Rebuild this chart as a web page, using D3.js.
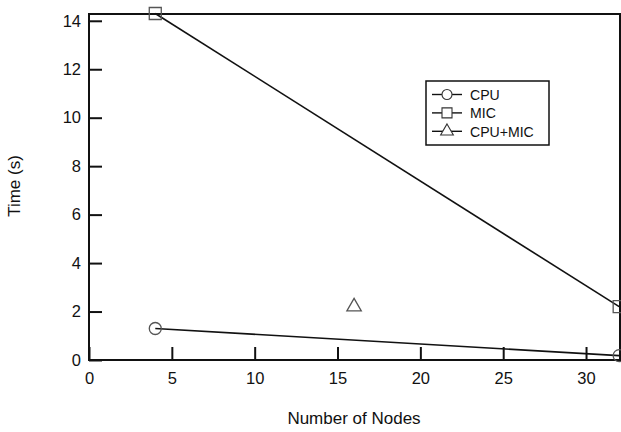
<!DOCTYPE html>
<html>
<head>
<meta charset="utf-8">
<script src="https://cdn.jsdelivr.net/npm/d3@7"></script>
<style>
  body { margin: 0; background: #fff; }
  svg { font-family: "Liberation Sans", Arial, sans-serif; }
</style>
</head>
<body>
<svg id="chart" width="621" height="432"></svg>
<script>
// data
const nodes = [4, 32];
const cpuTimes = [1.3, 0.18];
const micTimes = [14.3, 2.2];
const hybridNodes = [16];
const hybridTimes = [2.2];
const xTicks = [0, 5, 10, 15, 20, 25, 30];
const yTicks = [0, 2, 4, 6, 8, 10, 12, 14];

const margin = {top: 14, right: 1, bottom: 72, left: 89};
const width = 621 - margin.left - margin.right;
const height = 432 - margin.top - margin.bottom;

const svg = d3.select("#chart");
const g = svg.append("g").attr("transform", `translate(${margin.left},${margin.top})`);

const x = d3.scaleLinear().domain([0, 32.05]).range([0, width]);
const y = d3.scaleLinear().domain([0, 14.28]).range([height, 0]);

// axes with inward ticks
const xAxis = g.append("g")
  .attr("transform", `translate(0,${height})`)
  .call(d3.axisBottom(x).tickValues(xTicks).tickSizeInner(-13).tickSizeOuter(0).tickPadding(12));
const yAxis = g.append("g")
  .call(d3.axisLeft(y).tickValues(yTicks).tickSizeInner(-13).tickSizeOuter(0).tickPadding(8));

[xAxis, yAxis].forEach(a => {
  a.select(".domain").remove();
  a.selectAll(".tick line").attr("stroke", "#111").attr("stroke-width", 2);
  a.selectAll(".tick text").attr("font-size", 16.5).attr("fill", "#111")
    .attr("font-family", "\"Liberation Sans\", Arial, sans-serif");
});

// frame
g.append("rect")
  .attr("width", width).attr("height", height)
  .attr("fill", "none").attr("stroke", "#111").attr("stroke-width", 2);

const line = d3.line().x(d => x(d[0])).y(d => y(d[1]));
const cpu = nodes.map((n, i) => [n, cpuTimes[i]]);
const mic = nodes.map((n, i) => [n, micTimes[i]]);
const hybrid = hybridNodes.map((n, i) => [n, hybridTimes[i]]);

g.append("path").datum(cpu).attr("d", line).attr("fill", "none").attr("stroke", "#111").attr("stroke-width", 1.6);
g.append("path").datum(mic).attr("d", line).attr("fill", "none").attr("stroke", "#111").attr("stroke-width", 1.6);

const symCircle = d3.symbol().type(d3.symbolCircle).size(Math.PI * 36);
const symSquare = d3.symbol().type(d3.symbolSquare).size(144);
const symTri = d3.symbol().type(d3.symbolTriangle).size(90);

function markers(data, sym) {
  g.selectAll(null).data(data).join("path")
    .attr("transform", d => `translate(${x(d[0])},${y(d[1])})`)
    .attr("d", sym)
    .attr("fill", "none").attr("stroke", "#555").attr("stroke-width", 1.3);
}
markers(cpu, symCircle);
markers(mic, symSquare);
markers(hybrid, symTri);

// axis titles
svg.append("text")
  .attr("x", 354).attr("y", 424)
  .attr("text-anchor", "middle").attr("font-size", 17).attr("fill", "#111")
  .text("Number of Nodes");
svg.append("text")
  .attr("transform", "translate(20,186) rotate(-90)")
  .attr("text-anchor", "middle").attr("font-size", 17).attr("fill", "#111")
  .text("Time (s)");

// legend
const legendItems = [
  {name: "CPU", sym: symCircle},
  {name: "MIC", sym: symSquare},
  {name: "CPU+MIC", sym: symTri}
];
const legend = svg.append("g").attr("transform", "translate(426,81)");
legend.append("rect").attr("width", 123).attr("height", 64)
  .attr("fill", "#fff").attr("stroke", "#111").attr("stroke-width", 1.5);
const rows = legend.selectAll(null).data(legendItems).join("g")
  .attr("transform", (d, i) => `translate(0,${13.5 + i * 18.4})`);
rows.append("line").attr("x1", 6).attr("x2", 36).attr("stroke", "#111").attr("stroke-width", 1.4);
rows.append("path").attr("transform", "translate(21,0)")
  .attr("d", d => d.sym.size(d.name === "CPU" ? Math.PI * 25 : d.name === "MIC" ? 100 : 70)())
  .attr("fill", "#fff").attr("stroke", "#333").attr("stroke-width", 1.1);
rows.append("text").attr("transform", "translate(44,0) scale(0.91,1)").attr("dy", "0.36em")
  .attr("font-size", 15.5).attr("fill", "#111").text(d => d.name);
</script>
</body>
</html>
